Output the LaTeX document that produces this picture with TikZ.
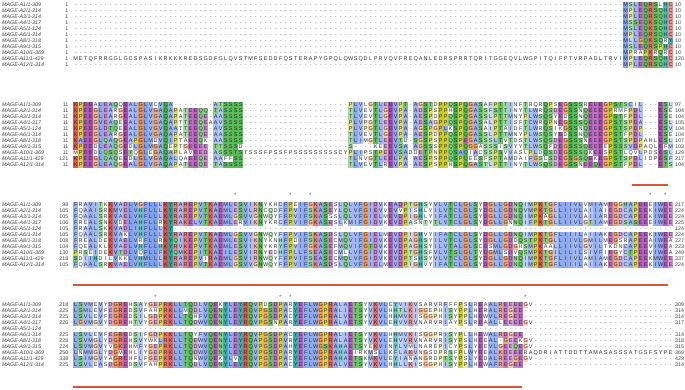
\documentclass[tikz,border=0pt]{standalone}
\usepackage{fontspec}
\setmainfont{Liberation Sans}

\definecolor{resblue}{HTML}{80A0F0}
\definecolor{resred}{HTML}{D9463A}
\definecolor{resgreen}{HTML}{48B848}
\definecolor{resmagenta}{HTML}{B050B8}
\definecolor{respink}{HTML}{F08080}
\definecolor{resorange}{HTML}{F09048}
\definecolor{resyellow}{HTML}{C8C828}
\definecolor{rescyan}{HTML}{22A6A6}
\definecolor{restext}{HTML}{303030}
\definecolor{gaptext}{HTML}{808080}
\definecolor{namegray}{HTML}{404040}
\definecolor{markblue}{HTML}{4D6FA8}
\definecolor{barred}{HTML}{D5573B}

\tikzset{
  seqname/.style={anchor=base west,inner sep=0pt,text=namegray,font=\fontsize{5.3}{6}\selectfont\itshape},
  seqnum/.style={inner sep=0pt,text=namegray,font=\fontsize{5.3}{6}\selectfont},
  seqres/.style={anchor=base west,inner sep=0pt,font=\fontsize{5.5}{6}\selectfont},
  starmark/.style={inner sep=0pt,text=markblue,font=\fontsize{6.5}{6}\selectfont},
  domainbar/.style={barred,line width=2pt}
}

\ExplSyntaxOn
\seq_new:N \g_msa_rows_seq
\tl_new:N \g_msa_blk_tl
\int_new:N \g_msa_n_int
\int_new:N \l_msa_col_int
\int_new:N \l_msa_row_int
\int_new:N \l_msa_maxl_int
\int_new:N \l_msa_maxc_int
\tl_new:N \l_msa_colour_tl
\tl_new:N \l_msa_spec_tl
\tl_new:N \l_msa_seq_tl
\tl_new:N \l_msa_yo_tl

% run of gap characters
\cs_new:Npn \gap #1 { \prg_replicate:nn {#1} {-} }

\NewDocumentCommand \msarow { m m m m }
  {
    \tl_set:Nx \l_msa_seq_tl {#4}
    \seq_gput_right:Nx \g_msa_rows_seq
      { { \exp_not:n {#1} } { \exp_not:n {#2} } { \exp_not:n {#3} } { \exp_not:V \l_msa_seq_tl } }
  }

\cs_new_protected:Npn \msa_incr:n #1
  {
    \cs_if_exist:cTF {#1}
      { \cs_gset:cpx {#1} { \int_eval:n { \use:c {#1} + 1 } } }
      { \cs_gset:cpn {#1} { 1 } }
  }

\cs_new_protected:Npn \msa_count:nnnn #1#2#3#4
  {
    \int_zero:N \l_msa_col_int
    \tl_map_inline:nn {#4}
      {
        \int_incr:N \l_msa_col_int
        \str_if_eq:nnF {##1} {-}
          { \msa_incr:n { msa@\g_msa_blk_tl @\int_use:N \l_msa_col_int @##1 } }
      }
  }

\cs_new:Npn \msa_cnt:n #1 { ( 0 \tl_map_tokens:nn {#1} { \msa_cnt_aux:n } ) }
\cs_new:Npn \msa_cnt_aux:n #1
  {
    + \cs_if_exist:cTF { msa@\g_msa_blk_tl @\int_use:N \l_msa_col_int @#1 }
        { \use:c { msa@\g_msa_blk_tl @\int_use:N \l_msa_col_int @#1 } } { 0 }
  }
\cs_new:Npn \msa_p:nn #1#2
  { \int_compare_p:nNn { 100 * \msa_cnt:n {#1} } > { #2 * \g_msa_n_int } }

% column shading by conservation
\cs_new_protected:Npn \msa_colpct:n #1
  {
    \int_set:Nn \l_msa_col_int {#1}
    \int_zero:N \l_msa_maxl_int
    \tl_map_inline:nn {ACDEFGHIKLMNPQRSTVWY}
      { \int_set:Nn \l_msa_maxl_int { \int_max:nn { \l_msa_maxl_int } { \msa_cnt:n {##1} } } }
    \int_zero:N \l_msa_maxc_int
    \clist_map_inline:nn {AVILMFWC,KR,ED,NQST,G,P,HY}
      { \int_set:Nn \l_msa_maxc_int { \int_max:nn { \l_msa_maxc_int } { \msa_cnt:n {##1} } } }
    \cs_gset:cpx { msa@\g_msa_blk_tl @#1@pct }
      {
        \int_eval:n { \int_max:nn {0}
          { 100 * ( 100 * ( \l_msa_maxl_int + \l_msa_maxc_int ) / ( 2 * \g_msa_n_int ) - 12 ) / 88 } }
      }
  }

% clustal colours
\cs_new_protected:Npn \msa_set:n #1 { \tl_set:Nn \l_msa_colour_tl {#1} }
\cs_new_protected:Npn \msa_hyd:
  { \bool_if:nT { \msa_p:nn {WLVIMAFCHP} {60} } { \msa_set:n {resblue} } }
\cs_new_protected:Npn \msa_kr:
  {
    \bool_if:nT { \msa_p:nn {KR} {60} || \msa_p:nn {K} {85} || \msa_p:nn {R} {85} || \msa_p:nn {Q} {85} }
      { \msa_set:n {resred} }
  }
\cs_new_protected:Npn \msa_st:
  {
    \bool_if:nT { \msa_p:nn {WLVIMAFCHP} {60} || \msa_p:nn {TS} {50} || \msa_p:nn {S} {85} || \msa_p:nn {T} {85} }
      { \msa_set:n {resgreen} }
  }
\cs_new_protected:Npn \msa_hy:
  {
    \bool_if:nT { \msa_p:nn {WLVIMAFCHP} {60} || \msa_p:nn {W} {85} || \msa_p:nn {Y} {85}
      || \msa_p:nn {F} {85} || \msa_p:nn {H} {85} || \msa_p:nn {L} {85} || \msa_p:nn {V} {85} }
      { \msa_set:n {rescyan} }
  }
\cs_new_protected:Npn \msa_colour:n #1
  {
    \tl_clear:N \l_msa_colour_tl
    \str_case:nn {#1}
      {
        {A} { \msa_hyd: } {I} { \msa_hyd: } {L} { \msa_hyd: } {M} { \msa_hyd: }
        {F} { \msa_hyd: } {W} { \msa_hyd: } {V} { \msa_hyd: }
        {C} { \bool_if:nTF { \msa_p:nn {C} {85} } { \msa_set:n {respink} } { \msa_hyd: } }
        {K} { \msa_kr: } {R} { \msa_kr: }
        {N} { \bool_if:nT { \msa_p:nn {N} {50} || \msa_p:nn {Y} {85} } { \msa_set:n {resgreen} } }
        {Q} { \bool_if:nT { \msa_p:nn {KR} {60} || \msa_p:nn {QE} {50} || \msa_p:nn {Q} {85}
                || \msa_p:nn {E} {85} || \msa_p:nn {K} {85} || \msa_p:nn {R} {85} } { \msa_set:n {resgreen} } }
        {E} { \bool_if:nT { \msa_p:nn {KR} {60} || \msa_p:nn {QE} {50} || \msa_p:nn {ED} {50}
                || \msa_p:nn {E} {85} || \msa_p:nn {Q} {85} || \msa_p:nn {D} {85} } { \msa_set:n {resmagenta} } }
        {D} { \bool_if:nT { \msa_p:nn {KR} {60} || \msa_p:nn {ED} {50} || \msa_p:nn {K} {85}
                || \msa_p:nn {R} {85} || \msa_p:nn {Q} {85} } { \msa_set:n {resmagenta} } }
        {S} { \msa_st: } {T} { \msa_st: }
        {G} { \msa_set:n {resorange} }
        {P} { \msa_set:n {resyellow} }
        {H} { \msa_hy: } {Y} { \msa_hy: }
      }
  }

% one residue cell, 5pt wide
\cs_new_protected:Npn \msa_cell:n #1
  {
    \int_incr:N \l_msa_col_int
    \str_if_eq:nnTF {#1} {-}
      { \hbox_to_wd:nn {5pt} { \hss \color{gaptext} - \hss } }
      {
        \msa_colour:n {#1}
        \hbox_to_wd:nn {5pt}
          {
            \tl_if_empty:NF \l_msa_colour_tl
              {
                \tl_set:Nx \l_msa_spec_tl
                  { \l_msa_colour_tl ! \use:c { msa@\g_msa_blk_tl @\int_use:N \l_msa_col_int @pct } ! white }
                \hbox_overlap_right:n { \exp_args:NV \color \l_msa_spec_tl \rule[-1.4pt]{5pt}{6pt} }
              }
            \hss #1 \hss
          }
      }
  }

\NewDocumentCommand \msaresidues { m }
  { \color{restext} \int_zero:N \l_msa_col_int \tl_map_function:nN {#1} \msa_cell:n }

\cs_new_protected:Npn \msa_draw:nnnn #1#2#3#4
  {
    \int_incr:N \l_msa_row_int
    \use:e
      {
        \exp_not:N \seqline
          { \fp_eval:n { \l_msa_yo_tl + 6 * ( \int_use:N \l_msa_row_int - 1 ) + 1.6 } }
          { b\g_msa_blk_tl r\int_use:N \l_msa_row_int }
          { \exp_not:n {#1} } { \exp_not:n {#2} } { \exp_not:n {#3} } { \exp_not:n {#4} }
      }
  }

% \msablock{id}{y of first row}
\NewDocumentCommand \msablock { m m }
  {
    \tl_gset:Nn \g_msa_blk_tl {#1}
    \tl_set:Nn \l_msa_yo_tl {#2}
    \int_gset:Nn \g_msa_n_int { \seq_count:N \g_msa_rows_seq }
    \seq_map_inline:Nn \g_msa_rows_seq { \msa_count:nnnn ##1 }
    \int_step_inline:nn {120} { \msa_colpct:n {##1} }
    \int_zero:N \l_msa_row_int
    \seq_map_inline:Nn \g_msa_rows_seq { \msa_draw:nnnn ##1 }
    \seq_gclear:N \g_msa_rows_seq
  }
\ExplSyntaxOff

% y, id, name, start, end, residues
\newcommand\seqline[6]{%
  \node[seqname] (#2n) at (2,#1) {#3};
  \node[seqnum,anchor=base east] (#2s) at (68.5,#1) {#4};
  \node[seqres] (#2q) at (73,#1) {\msaresidues{#6}};
  \node[seqnum,anchor=base west] (#2e) at (675,#1) {#5};
}

\begin{document}
\begin{tikzpicture}[x=1pt,y=-1pt]
\fill[white] (0,0) rectangle (685,390);
\useasboundingbox (0,0) rectangle (685,390);

% block 1
\msarow{MAGE-A1/1-309}{1}{10}{\gap{110}MSLEQRSLHC}
\msarow{MAGE-A2/1-314}{1}{10}{\gap{110}MPLEQRSQHC}
\msarow{MAGE-A3/1-314}{1}{10}{\gap{110}MPLEQRSQHC}
\msarow{MAGE-A4/1-317}{1}{10}{\gap{110}MSSEQKSQHC}
\msarow{MAGE-A5/1-124}{1}{10}{\gap{110}MSLEQKSQHC}
\msarow{MAGE-A6/1-314}{1}{10}{\gap{110}MPLEQRSQHC}
\msarow{MAGE-A8/1-318}{1}{10}{\gap{110}MLLGQKSQRY}
\msarow{MAGE-A9/1-315}{1}{10}{\gap{110}MSLEQRSPHC}
\msarow{MAGE-A10/1-369}{1}{10}{\gap{110}MPRAPKRQRC}
\msarow{MAGE-A11/1-429}{1}{120}{METQFRRGGLGCSPASIKRKKKREDSGDFGLQVSTMFSEDDFQSTERAPYGPQLQWSQDLPRVQVFREQANLEDRSPRRTQRITGGEQVLWGPITQIFPTVRPADLTRVIMPLEQRSQHC}
\msarow{MAGE-A12/1-314}{1}{10}{\gap{110}MPLEQRSQHC}
\msablock{1}{5}

% block 2
\msarow{MAGE-A1/1-309}{11}{97}{KPEEALEAQQEALGLVCVQA\gap{8}ATSSSS\gap{21}PLVLGTLEEVPT-AGSTDPPQSPQGASAFPTTINFTRQRQPSEGSSSREEEGPSTSCIL---ESL}
\msarow{MAGE-A2/1-314}{11}{104}{KPEEGLEARGEALGLVGAQAPATEEQQ-TASSSS\gap{21}TLVEVTLGEVPA-ADSPSPPHSPQGASSFSTTINYTLWRQSDEGSSNQEEEGPRMFPDL---ESE}
\msarow{MAGE-A3/1-314}{11}{104}{KPEEGLEARGEALGLVGAQAPATEEQE-AASSSS\gap{21}TLVEVTLGEVPA-AESPDPPQSPQGASSLPTTMNYPLWSQSYEDSSNQEEEGPSTFPDL---ESE}
\msarow{MAGE-A4/1-317}{11}{105}{KPEEGVEAQEEALGLVGAQAPTTEEQEAAVSSSS\gap{21}PLVPGTLEEVPA-AESAGPPQSPQGASALPTTISFTCWRQPNEGSSSQEEEGPSTSPDA---ESL}
\msarow{MAGE-A5/1-124}{11}{104}{KPEEGLDTQEEALGLVGVQAATTEEQE-AVSSSS\gap{21}PLVPGTLGEVPA-AGSPGPLKSPQGASAIPTAIDFTLWRQSIKGSSNQEEEGPSTSPDP---ESV}
\msarow{MAGE-A6/1-314}{11}{104}{KPEEGLEARGEALGLVGAQAPATEEQE-AASSSS\gap{21}TLVEVTLGEVPA-AESPDPPQSPQGASSLPTTMNYPLWSQSYEDSSNQEEEGPSTFPDL---ESE}
\msarow{MAGE-A8/1-318}{11}{107}{KAEEGLQAQGEAPGLMDVQIPTAEEQK-AASSSS\gap{21}TLIMGTLEEVTD-SGSPSPPQSPEGASSSLTVTDSTLWSQSDEGSSSNEEEGPSTSPDPAHLESL}
\msarow{MAGE-A9/1-315}{11}{103}{KPDEDLEAQGEDLGLMGAQEPTGEEEE-TTSSSD\gap{21}S----KEEEVSA-AGSSSPPQSPQGGASSSISVYYTLWSQFDEGSSSQEEEEPSSSVDPAQLEFM}
\msarow{MAGE-A10/1-369}{11}{129}{MPEEDLQSQSETQGLEGAQAPLAVEED-ASSSTSTSSSFPSSFPSSSSSSSSSCYPLIPSTPEEVSADDETPNPPQSAQIACSSPSVVASLPLDQSDEGSSSQKEESPSTLQVLPDSESL}
\msarow{MAGE-A11/1-429}{121}{217}{KPEEGLQAQEEDLGLVGAQALQAEEQE-AAFFSS\gap{21}TLNVGTLEELPA-AESPSPPQSPQEESFSPTAMDAIFGSLSDEGSGSQEKEGPSTSPDLIDPESF}
\msarow{MAGE-A12/1-314}{11}{104}{KPEEGLEAQGEALGLVGAQAPATEEQE-TASSSS\gap{21}TLVEVTLREVPA-AESPSPPHSPQGASTLPTTINYTLWSQSDEGSSNEEQEGPSTFPDL---ETS}
\msablock{2}{105}

% block 3
\msarow{MAGE-A1/1-309}{98}{217}{FRAVITKKVADLVGFLLLKYRAREPVTKAEMLESVIKNYKHCFPEIFGKASESLQLVFGIDVKEADPTGHSYVLVTCLGLSYDGLLGDNQIMPKTGFLIIVLVMIAMEGGHAPEEEIWEE}
\msarow{MAGE-A2/1-314}{105}{224}{FQAAISRKMVELVHFLLLKYRAREPVTKAEMLESVLRNCQDFFPVIFSKASEYLQLVFGIEVVEVVPISHLYILVTCLGLSYDGLLGDNQVMPKTGLLIIVLAIIAIEGDCAPEEKIWEE}
\msarow{MAGE-A3/1-314}{105}{224}{FQAALSRKVAELVHFLLLKYRAREPVTKAEMLGSVVGNWQYFFPVIFSKASSSLQLVFGIELMEVDPIGHLYIFATCLGLSYDGLLGDNQIMPKAGLLIIVLAIIAREGDCAPEEKIWEE}
\msarow{MAGE-A4/1-317}{106}{225}{FREALSNKVDELAHFLLRKYRAKELVTKAEMLERVIKNYKRCFPVIFGKASESLKMIFGIDVKEVDPASNTYTLVTCLGLSYDGLLGNNQIFPKTGLLIIVLGTIAMEGDSASEEEIWEE}
\msarow{MAGE-A5/1-124}{105}{124}{FRAALSKKVADLIHFLLLKY\gap{100}}
\msarow{MAGE-A6/1-314}{105}{224}{FQAALSRKVAKLVHFLLLKYRAREPVTKAEMLGSVVGNWQYFFPVIFSKASDSLQLVFGIELMEVDPIGHVYIFATCLGLSYDGLLGDNQIMPKTGFLIIILAIIAKEGDCAPEEKIWEE}
\msarow{MAGE-A8/1-318}{108}{227}{FREALDEKVAELVRFLLRKYQIKEPVTKAEMLESVIKNYKNHFPDIFSKASECMQVIFGIDVKEVDPAGHSYILVTCLGLSYDGLLGDDQSTPKTGLLIIVLGMILMEGSRAPEEAIWEA}
\msarow{MAGE-A9/1-315}{104}{223}{FQEALKLKVAELVHFLLHKYRVKEPVTKAEMLESVIKNYKRYFPVIFGKASEFMQVIFGTDVKEVDPAGHSYILVTALGLSCDSMLGDGHSMPKAALLIIVLGVILTKDNCAPEEVIWEA}
\msarow{MAGE-A10/1-369}{130}{249}{PRSEIDEKVTDLVQFLLFKYQMKEPITKAEILESVIRNYEDHFPLLFSEASECMLLVFGIDVKEVDPTGHSFVLVTSLGLTYDGMLSDVQSMPKTGILILILSIVFIEGYCTPEEVIWEA}
\msarow{MAGE-A11/1-429}{218}{337}{SDIIHDILVKKLVHMLLLRYRAREPVIRAEMLGSVIRNWQYFFPVIFSEASECMQLVFGIDVKEVDPTSHSYVLVTCLGLSYDGLLGDNQIMPKTGFLIIVLAMIAMEGDCAPEEKMWEE}
\msarow{MAGE-A12/1-314}{105}{224}{FQAALSRKVAELVHFLLLKYRAREPVTKAEMLGSVVGNWQYFFPVIFSKASDSLQLVFGIELMEVDPIGHVYIFATCLGLSYDGLLGDNQIMPKTGFLIIILAIIAKEGDCAPEEKIWEE}
\msablock{3}{205}

% block 4
\msarow{MAGE-A1/1-309}{218}{309}{LSVMEVYDGREHSAYGEPRKLLTQDLVQEKYLEYRQVPDSDPARYEFLWGPRALAETSYVKVLEYVIKVSARVRFFFPSLREAALREEEEGV\gap{28}}
\msarow{MAGE-A2/1-314}{225}{314}{LSMLEVFEGREDSVFAHPRKLLMQDLVQENYLEYRQVPGSDPACYEFLWGPRALIETSYVKVLHHTLKIGGEPHISYPPLHERALREGEE\gap{30}}
\msarow{MAGE-A3/1-314}{225}{314}{LSVLEVFEGREDSILGDPKKLLTQHFVQENYLEYRQVPGSDPACYEFLWGPRALVETSYVKVLHHMVKISGGPHISYPPLHEWVLREGEE\gap{30}}
\msarow{MAGE-A4/1-317}{226}{317}{LGVMGVYDGREHTVYGEPRKLLTQDWVQENYLEYRQVPGSNPARYEFLWGPRALAETSYVKVLEHVVRVNARVRIAYPSLREAALLEEEEGV\gap{28}}
\msarow{MAGE-A5/1-124}{}{}{\gap{120}}
\msarow{MAGE-A6/1-314}{225}{314}{LSVLEVFEGREDSIFGDPKKLLTQYFVQENYLEYRQVPGSDPACYEFLWGPRALIETSYVKVLHHMVKISGGPRISYPLLHEWALREGEE\gap{30}}
\msarow{MAGE-A8/1-318}{228}{318}{LSVMGLYDGREHSVYWKLRKLLTQEWVQENYLEYRQAPGSDPVRYEFLWGPRALAETSYVKVLEHVVRVNARVRISYPSLHEEAL-GEEKGV\gap{28}}
\msarow{MAGE-A9/1-315}{224}{315}{LSVMGVYVGKEHMFYGEPRKLLTQDWVQENYLEYRQVPGSDPAHYEFLWGSKAHAETSYEKVINYLVMLNAREPICYPSLYEEVLGEEQEGV\gap{28}}
\msarow{MAGE-A10/1-369}{250}{369}{LNMMGLYDGMEHLIYGEPRKLLTQDWVQENYLEYRQVPGSDPARYEFLWGPRAHAEIRKMSLLKFLAKVNGSDPRSFPLWYEEALKDEEERAQDRIATTDDTTAMASASSSATGSFSYPE}
\msarow{MAGE-A11/1-429}{338}{429}{LSIMGVYAGREHFLFGEPKRLLTQNWVQEKYLVYRQVPGTDPACYEFLWGPRAHAETSKMKVLEYIANANGRDPTSYPSLYEDALREEGEGV\gap{28}}
\msarow{MAGE-A12/1-314}{225}{314}{LSVLEASDGREDSVFAHPRKLLTQDLVQENYLEYRQVPGSDPACYEFLWGPRALVETSYVKVLHHLLKISGGPHISYPPLHEWAFREGEE\gap{30}}
\msablock{4}{305}

% domain bars and marked sites
\draw[domainbar] (632,185.5) -- (668,185.5);
\draw[domainbar] (73,285) -- (668,285);
\draw[domainbar] (73,387) -- (522,387);
\foreach \c in {33,44,48,116,119}
  \node[starmark] (s3-\c) at ({73+5*\c-2.5},195) {*};
\foreach \c in {17,42,44,91}
  \node[starmark] (s4-\c) at ({73+5*\c-2.5},297) {*};
\end{tikzpicture}
\end{document}
